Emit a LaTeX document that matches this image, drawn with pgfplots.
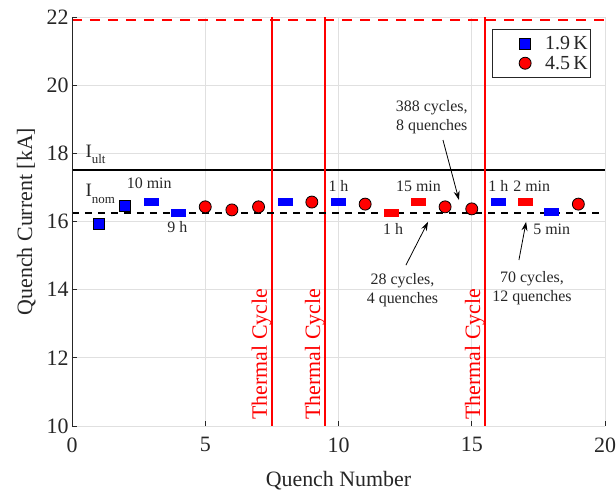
\documentclass[border=0pt]{standalone}
\usepackage{pgfplots}
\pgfplotsset{compat=1.18}
\usepackage{fontspec}
\setmainfont{Liberation Serif}
\usetikzlibrary{arrows.meta}

\definecolor{axgray}{gray}{0.15}
\definecolor{gridgray}{gray}{0.88}
\definecolor{mblue}{rgb}{0,0,1}
\definecolor{mred}{rgb}{1,0,0}

% flat bar used for current holds
\pgfdeclareplotmark{hold}{%
  \pgfpathrectanglecorners{\pgfpoint{-7.5bp}{-4bp}}{\pgfpoint{7.5bp}{4bp}}%
  \pgfusepathqfill}

\newcommand{\annfont}{\fontsize{16}{19}\selectfont}

\begin{document}
\begin{tikzpicture}
\begin{axis}[
  name=ax,
  scale only axis,
  width=533bp, height=409bp,
  xmin=0, xmax=20, ymin=10, ymax=22,
  xtick={0,5,...,20}, ytick={10,12,...,22},
  axis line style={draw=none},
  xtick pos=bottom, ytick pos=left,
  tick style={axgray, line width=0.8bp},
  tick align=inside,
  major tick length=5bp,
  grid=major,
  grid style={gridgray, line width=0.8bp},
  ticklabel style={font=\fontsize{22}{24}\selectfont, text=axgray},
  xticklabel style={yshift=-8bp},
  /pgf/number format/assume math mode=true,
  xlabel={Quench Number}, ylabel={Quench Current [kA]},
  label style={font=\fontsize{22}{24}\selectfont, text=axgray},
  xlabel style={yshift=-12bp},
  ylabel style={yshift=4bp},
  legend style={at={(0.974,0.971)}, anchor=north east, draw=axgray,
    line width=0.8bp, fill=white, font=\fontsize{20}{24}\selectfont,
    text=axgray, inner xsep=27bp, inner ysep=5bp, row sep=1bp,
    cells={anchor=west},
    /tikz/every odd column/.append style={column sep=12bp}},
]

% limit lines
\addplot[mred, line width=2bp, dash pattern=on 10bp off 8bp, forget plot]
  coordinates {(0,21.9) (20,21.9)};
\addplot[black, line width=2bp, forget plot]
  coordinates {(0,17.5) (20,17.5)};

% thermal cycles
\addplot[mred, line width=2bp, forget plot] coordinates {(7.5,10) (7.5,22)};
\addplot[mred, line width=2bp, forget plot] coordinates {(9.5,10) (9.5,22)};
\addplot[mred, line width=2bp, forget plot] coordinates {(15.5,10) (15.5,22)};

% quenches
\addplot[only marks, mark=square*, mark size=5.5bp,
  mark options={fill=mblue, draw=black, line width=0.8bp}]
  coordinates {(1,15.93) (2,16.46)};
\addlegendentry{1.9\,K\hspace*{-26bp}}
\addplot[only marks, mark=*, mark size=6bp,
  mark options={fill=mred, draw=black, line width=0.8bp}]
  coordinates {(5,16.43) (6,16.34) (7,16.43) (9,16.57) (11,16.51)
               (14,16.43) (15,16.37) (19,16.51)};
\addlegendentry{4.5\,K\hspace*{-26bp}}

% holds
\addplot[only marks, mark=hold, mblue, forget plot]
  coordinates {(3,16.57) (4,16.25) (8,16.57) (10,16.57) (16,16.57) (18,16.28)};
\addplot[only marks, mark=hold, mred, forget plot]
  coordinates {(12,16.25) (13,16.57) (17,16.57)};

% nominal current
\addplot[black, line width=1.8bp, dash pattern=on 7bp off 6bp, forget plot]
  coordinates {(0,16.25) (20,16.25)};

% left and bottom axis lines
\draw[axgray, line width=0.8bp]
  (rel axis cs:0,1) -- (rel axis cs:0,0) -- (rel axis cs:1,0);

% labels
\node[anchor=base west, inner sep=0, text=axgray, font=\fontsize{19}{22}\selectfont]
  at (axis cs:0.5,17.88) {I\raisebox{-6bp}{\fontsize{13}{15}\selectfont ult}};
\node[anchor=base west, inner sep=0, text=axgray, font=\fontsize{19}{22}\selectfont]
  at (axis cs:0.5,16.74) {I\raisebox{-7bp}{\fontsize{13}{15}\selectfont nom}};

\node[text=axgray, font=\annfont] at (axis cs:2.9,17.13) {10 min};
\node[text=axgray, font=\annfont] at (axis cs:3.95,15.84) {9 h};
\node[text=axgray, font=\annfont] at (axis cs:10.0,17.04) {1 h};
\node[text=axgray, font=\annfont] at (axis cs:13.0,17.04) {15 min};
\node[text=axgray, font=\annfont] at (axis cs:12.05,15.78) {1 h};
\node[text=axgray, font=\annfont] at (axis cs:16.0,17.04) {1 h};
\node[text=axgray, font=\annfont] at (axis cs:17.25,17.04) {2 min};
\node[text=axgray, font=\annfont] at (axis cs:18.0,15.78) {5 min};

\node[text=axgray, font=\annfont, align=center] at (axis cs:13.5,19.07)
  {388 cycles,\\8 quenches};
\node[text=axgray, font=\annfont, align=center] at (axis cs:12.4,13.99)
  {28 cycles,\\4 quenches};
\node[text=axgray, font=\annfont, align=center] at (axis cs:17.26,14.05)
  {70 cycles,\\12 quenches};

\draw[black, line width=0.8bp, -{Stealth[length=9bp,width=6bp]}]
  (axis cs:13.92,18.39) -- (axis cs:14.52,16.63);
\draw[black, line width=0.8bp, -{Stealth[length=9bp,width=6bp]}]
  (axis cs:12.53,14.72) -- (axis cs:13.36,15.99);
\draw[black, line width=0.8bp, -{Stealth[length=9bp,width=6bp]}]
  (axis cs:16.77,14.87) -- (axis cs:17.04,15.99);

\pgfplotsinvokeforeach{7.5,9.5,15.5}{
  \node[rotate=90, anchor=south west, inner sep=0, text=mred,
    font=\fontsize{22}{24}\selectfont, xshift=-4bp]
    at (axis cs:#1,10.3) {Thermal Cycle};
}
\end{axis}
\pgfresetboundingbox
\path[use as bounding box] ([shift={(-72bp,-68bp)}]ax.south west)
  rectangle ([shift={(11bp,17bp)}]ax.north east);
\end{tikzpicture}
\end{document}
